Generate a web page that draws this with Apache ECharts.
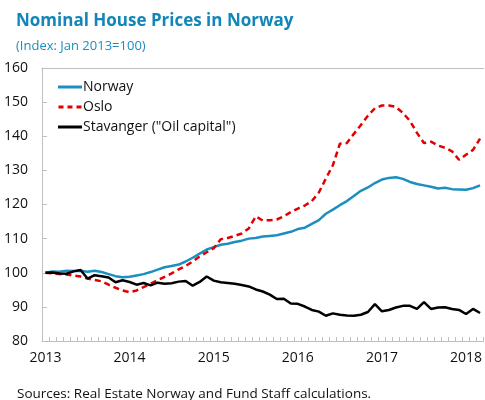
<!DOCTYPE html>
<html>
<head>
<meta charset="utf-8">
<script src="https://cdn.jsdelivr.net/npm/echarts@6/dist/echarts.min.js"></script>
<style>
  html, body { margin: 0; padding: 0; background: #fff; }
  #chart { width: 485px; height: 400px; }
</style>
</head>
<body>
<div id="chart"></div>
<script>
// monthly index, Jan 2013 = 100
var years = [2013, 2014, 2015, 2016, 2017, 2018];
var monthCount = 63;

var norway = [
  100.0, 100.4, 100.3, 100.6, 100.5, 100.6, 100.3, 100.6, 100.2, 99.6, 99.0, 98.7,
  98.8, 99.2, 99.6, 100.2, 100.9, 101.6, 102.0, 102.4, 103.3, 104.4, 105.6, 106.8,
  107.5, 108.2, 108.5, 109.0, 109.4, 110.0, 110.2, 110.6, 110.8, 111.0, 111.5, 112.0,
  112.8, 113.2, 114.3, 115.4, 117.3, 118.5, 119.8, 121.0, 122.5, 124.0, 125.0, 126.3,
  127.3, 127.8, 128.0, 127.5, 126.6, 126.0, 125.6, 125.2, 124.7, 124.9, 124.5, 124.4,
  124.3, 124.8, 125.6
];
var oslo = [
  100.0, 99.8, 99.6, 99.5, 99.2, 98.9, 98.3, 97.9, 97.5, 96.5, 95.6, 94.8,
  94.3, 94.8, 95.8, 96.8, 97.8, 98.8, 99.8, 101.0, 102.0, 103.3, 104.8, 106.0,
  107.2, 109.8, 110.2, 110.8, 111.5, 113.0, 116.5, 115.3, 115.4, 115.6, 116.5, 117.8,
  118.8, 119.7, 121.0, 123.5, 127.6, 131.5, 137.8, 138.0, 140.7, 143.3, 146.0, 148.2,
  149.0, 149.0, 148.6, 146.8, 144.5, 141.0, 138.0, 138.4, 137.3, 136.6, 135.6, 133.1,
  134.6, 136.0, 139.3
];
var stavanger = [
  100.0, 100.1, 99.8, 99.7, 100.4, 100.8, 98.3, 99.3, 99.0, 98.6, 97.2, 97.8,
  97.3, 96.5, 97.0, 96.3, 97.1, 96.8, 96.9, 97.4, 97.6, 96.2, 97.3, 98.9,
  97.7, 97.2, 97.0, 96.8, 96.4, 96.0, 95.1, 94.5, 93.6, 92.3, 92.4, 91.0,
  90.9, 90.1, 89.1, 88.6, 87.4, 88.1, 87.7, 87.5, 87.4, 87.7, 88.5, 90.8,
  88.7, 89.1, 89.8, 90.3, 90.3, 89.4, 91.4, 89.4, 89.8, 89.9, 89.4, 89.1,
  87.9, 89.4, 88.2
];
var yTicks = { min: 80, max: 160, interval: 10 };

// month categories built from the years
var months = [];
for (var i = 0; i < monthCount; i++) {
  var y = years[0] + Math.floor(i / 12);
  var m = (i % 12) + 1;
  months.push(y + '-' + (m < 10 ? '0' + m : m));
}

var font = "'Open Sans', 'Noto Sans', sans-serif";
var myChart = echarts.init(document.getElementById('chart'));

// legend icons: solid bar and dashed bar
var solidIcon = 'path://M0,0H24V3H0Z';
var dashIcon = 'path://M0,0H5V3H0Z M9,0H14V3H9Z M18,0H23V3H18Z';

var option = {
  animation: false,
  textStyle: { fontFamily: font },
  title: [
    {
      text: 'Nominal House Prices in Norway',
      left: 11, top: 8,
      textStyle: { color: '#1286b8', fontSize: 17, fontWeight: 'bold', fontFamily: font }
    },
    {
      text: '(Index: Jan 2013=100)',
      left: 11, top: 35,
      textStyle: { color: '#1a8ec0', fontSize: 13, fontWeight: 'normal', fontFamily: font }
    },
    {
      text: 'Sources: Real Estate Norway and Fund Staff calculations.',
      left: 12, top: 382,
      textStyle: { color: '#111', fontSize: 13.5, fontWeight: 'normal', fontFamily: font }
    }
  ],
  legend: {
    orient: 'vertical',
    left: 53, top: 75,
    itemWidth: 24, itemHeight: 3,
    itemGap: 6,
    textStyle: { fontSize: 14, color: '#111', padding: [0, 0, 0, -4] },
    data: [
      { name: 'Norway', icon: solidIcon },
      { name: 'Oslo', icon: dashIcon },
      { name: 'Stavanger ("Oil capital")', icon: solidIcon }
    ]
  },
  grid: { left: 42, right: -3, top: 68, bottom: 59 },
  xAxis: [
    {
      type: 'category',
      data: months,
      boundaryGap: true,
      axisLine: { lineStyle: { color: '#bfbfbf', width: 1 } },
      axisTick: { show: true, inside: true, length: 4, interval: 0, lineStyle: { color: '#bfbfbf' } },
      axisLabel: {
        interval: function (idx) { return idx % 12 === 0; },
        formatter: function (v) { return v.slice(0, 4); },
        color: '#111', fontSize: 14, margin: 10
      }
    },
    {
      type: 'category',
      position: 'top',
      data: months,
      axisLine: { lineStyle: { color: '#bfbfbf', width: 1 } },
      axisTick: { show: false },
      axisLabel: { show: false }
    }
  ],
  yAxis: {
    type: 'value',
    min: yTicks.min, max: yTicks.max, interval: yTicks.interval,
    axisLine: { show: true, lineStyle: { color: '#bfbfbf' } },
    axisTick: { show: true, inside: true, length: 5, lineStyle: { color: '#bfbfbf' } },
    splitLine: { show: false },
    axisLabel: { color: '#111', fontSize: 14, margin: 14 }
  },
  series: [
    {
      name: 'Norway', type: 'line', data: norway,
      showSymbol: false, symbol: 'none',
      lineStyle: { color: '#1a8fc0', width: 2.5 },
      itemStyle: { color: '#1a8fc0' }
    },
    {
      name: 'Oslo', type: 'line', data: oslo,
      showSymbol: false, symbol: 'none',
      lineStyle: { color: '#e00000', width: 2.5, type: [6, 4] },
      itemStyle: { color: '#e00000' }
    },
    {
      name: 'Stavanger ("Oil capital")', type: 'line', data: stavanger,
      showSymbol: false, symbol: 'none',
      lineStyle: { color: '#000', width: 2.5 },
      itemStyle: { color: '#000' }
    }
  ]
};

myChart.setOption(option);
</script>
</body>
</html>
